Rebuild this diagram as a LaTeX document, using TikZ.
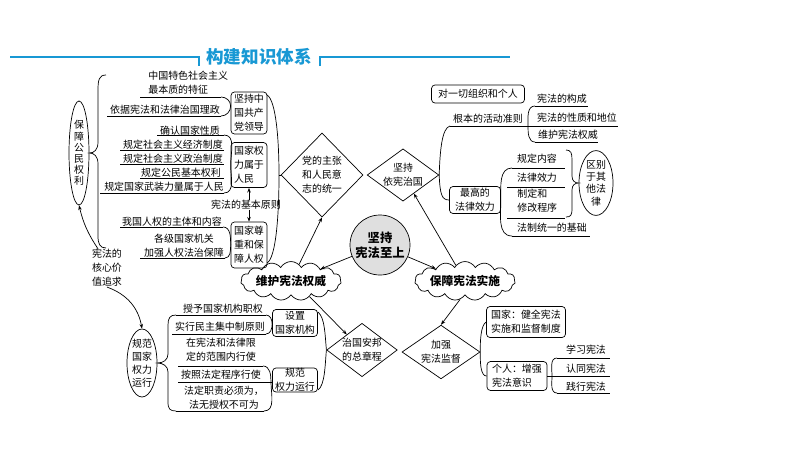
\documentclass[tikz,border=0pt]{standalone}
\usepackage{fontspec}
\setmainfont{Noto Sans CJK SC}
\usepackage{tikz}
\usetikzlibrary{shapes,arrows.meta,positioning,calc}
\definecolor{titleblue}{RGB}{24,152,212}

\begin{document}
\begin{tikzpicture}[x=0.03cm,y=-0.03cm,line width=0.6pt,
    every node/.style={font=\fontsize{8.5}{12}\selectfont},
    txt/.style={inner sep=0pt,align=center},
    box/.style={draw,rounded corners=3pt,align=center,inner sep=0pt},
    dia/.style={draw,diamond,align=center,inner sep=0pt},
    oval/.style={draw,ellipse,align=center,inner sep=0pt},
    puff/.style={draw,cloud,cloud puffs=15,cloud puff arc=120,aspect=3.6,inner sep=0pt,
        font=\fontsize{10}{12}\selectfont\bfseries},
    arr/.style={-{Stealth[length=4pt,width=3pt]}}]
    \useasboundingbox (0,0) rectangle (794,449);

    % Title
    \node[font=\fontsize{15}{18}\selectfont\bfseries,text=titleblue] (title) at (259,57) {构建知识体系};
    \draw[titleblue,line width=1.3pt] (10,57) -- (199,57) -- (199,66);
    \draw[titleblue,line width=1.3pt] (320,66) -- (320,57) -- (510,57);

    % Left upper group
    \node[oval,minimum width=0.6cm,minimum height=3.12cm,font=\fontsize{8.5}{9.5}\selectfont] (prot) at (79,153) {保\\障\\公\\民\\权\\利};
    \draw (106,75) .. controls (99,75) and (98,80) .. (98,90) -- (98,142)
        .. controls (98,150) and (94,153) .. (prot.east)
        .. controls (94,153) and (98,156) .. (98,164) -- (98,236)
        .. controls (98,244) and (100,248) .. (106,248);

    \node[txt,align=left,anchor=west] (a1) at (148,83) {中国特色社会主义\\最本质的特征};
    \node[txt] (a2) at (165,110) {依据宪法和法律治国理政};
    \node[txt] (b1) at (190,131) {确认国家性质};
    \node[txt] (b2) at (173,145) {规定社会主义经济制度};
    \node[txt] (b3) at (173,159) {规定社会主义政治制度};
    \node[txt] (b4) at (181,173) {规定公民基本权利};
    \node[txt] (b5) at (164,187) {规定国家武装力量属于人民};
    \node[txt] (c1) at (172,222) {我国人权的主体和内容};
    \node[txt] (c2) at (184,246) {各级国家机关\\加强人权法治保障};
    \node[txt] (c0) at (246,205) {宪法的基本原则};

    \node[box,minimum width=1.08cm,minimum height=1.26cm] (box1) at (249,113) {坚持中\\国共产\\党领导};
    \node[box,align=left,minimum width=1.08cm,minimum height=1.35cm] (box2) at (249,165) {国家权\\力属于\\人民};
    \node[box,minimum width=1.08cm,minimum height=1.38cm] (box3) at (249,245) {国家尊\\重和保\\障人权};

    \draw (140,97) -- (221,97);
    \draw (107,116) -- (221,116);
    \draw (221,97) to[out=0,in=90] (box1.west |- 0,106) to[out=-90,in=0] (221,116);
    \foreach \y/\x in {135/157,150/120,164/120,178/140,193/100} {
        \draw (\x,\y) -- (224,\y);
    }
    \draw (224,135) to[out=0,in=90] (box2.west) to[out=-90,in=0] (224,193);
    \draw (120,227) -- (223,227);
    \draw (140,258) -- (225,258);
    \draw (223,227) to[out=0,in=90] (box3.west) to[out=-90,in=0] (225,258);

    \draw[arr] (box2.south |- c0.north) -- (box2.south);
    \draw[arr] (box3.north |- c0.south) -- (box3.north);

    % Diamonds and centre
    \node[dia,minimum width=2.46cm,minimum height=2.52cm] (d1) at (322,175) {党的主张\\和人民意\\志的统一};
    \node[dia,aspect=1.37] (d2) at (403,175) {坚持\\依宪治国};
    \node[dia,aspect=1.32] (d3) at (362,350) {治国安邦\\的总章程};
    \node[dia,aspect=1.3,minimum width=2.34cm] (d4) at (441,352) {加强\\宪法监督};

    \coordinate (t1) at (279,175);
    \draw (267,95) .. controls (276,100) and (279,140) .. (t1)
        .. controls (279,215) and (276,258) .. (267,263);
    \draw (t1) -- (d1.west);

    \node[circle,draw,fill=gray!25,minimum size=1.8cm,align=center,inner sep=0pt,
        font=\fontsize{10.5}{13}\selectfont\bfseries] (hub) at (380,245) {坚持\\宪法至上};
    \node[puff,minimum width=3cm,minimum height=0.9cm] (wh) at (291,281) {维护宪法权威};
    \node[puff,minimum width=2.64cm,minimum height=0.78cm] (bz) at (465,281) {保障宪法实施};

    \draw[arr] (hub) -- (wh);
    \draw[arr] (hub) -- (bz);
    \draw[arr] (wh) -- (d1.south);
    \draw[arr] (bz) -- (d2);
    \draw[arr] (wh.-40) -- (d3);
    \draw[arr] (bz.-105) -- (d4.north);

    % Left lower group
    \node[oval,minimum width=0.9cm,minimum height=2.04cm,font=\fontsize{8.5}{11}\selectfont] (reg) at (142,363) {规范\\国家\\权力\\运行};
    \draw (176,315) .. controls (170,315) and (168,318) .. (168,325) -- (168,354)
        .. controls (168,360) and (163,363) .. (reg.east)
        .. controls (163,363) and (168,366) .. (168,372) -- (168,402)
        .. controls (168,409) and (170,411) .. (176,411);

    % Core value
    \node[txt,align=left] (val) at (107,268) {宪法的\\核心价\\值追求};
    \draw[arr] (val.115) to[bend left=10] (prot.south);
    \draw[arr] (val.south) to[bend left=30] (reg.north);

    \node[txt] (e1) at (223,309) {授予国家机构职权};
    \node[txt] (e2) at (220,327) {实行民主集中制原则};
    \node[txt] (e3) at (221,350) {在宪法和法律限\\定的范围内行使};
    \node[txt] (e4) at (221,375) {按照法定程序行使};
    \node[txt] (e5) at (224,398) {法定职责必须为，\\法无授权不可为};

    \node[box,minimum width=1.35cm,minimum height=0.81cm] (s1) at (295,323) {设置\\国家机构};
    \node[box,minimum width=1.35cm,minimum height=0.72cm] (s2) at (295,380) {规范\\权力运行};

    \draw (176,315) -- (266,315);
    \draw (172,334) -- (266,334);
    \draw (178,366) -- (263,366);
    \draw (178,382) -- (s2.west |- 0,382);
    \draw (176,411) -- (264,411);
    \draw (266,315) to[out=0,in=90] (s1.west |- 0,324) to[out=-90,in=0] (266,334);
    \draw (263,366) to[out=0,in=90] (271,382) to[out=-90,in=0] (264,411);
    \draw (318,312) .. controls (325,318) and (325,335) .. (d3.west)
        .. controls (325,365) and (325,385) .. (318,390);

    % Right upper group
    \node[box,minimum width=2.79cm,minimum height=0.54cm] (r0) at (478,94) {对一切组织和个人};
    \node[txt] (r1) at (488,119) {根本的活动准则};
    \node[txt] (r2) at (562,99) {宪法的构成};
    \node[txt] (r3) at (577,118) {宪法的性质和地位};
    \node[txt] (r4) at (568,135) {维护宪法权威};
    \draw (450,126) -- (618,126);
    \draw (535,106) -- (588,106);
    \draw (535,142) -- (598,142);
    \draw (535,106) to[out=180,in=90] (528,126) to[out=-90,in=180] (535,142);

    \node[box,minimum width=1.53cm,minimum height=0.81cm] (m) at (475,200) {最高的\\法律效力};
    \draw (450,126) .. controls (442,128) and (440,150) .. (d2.east)
        .. controls (440,195) and (442,200) .. (m.west);

    \node[txt] (q1) at (537,159) {规定内容};
    \node[txt] (q2) at (537,178) {法律效力};
    \node[txt,align=left,anchor=west] (q3) at (517,201) {制定和\\修改程序};
    \node[txt] (q4) at (552,228) {法制统一的基础};
    \draw (512,168) -- (565,168);
    \draw (507,187) -- (565,187);
    \draw (507,218) -- (565,218);
    \draw (512,236) -- (590,236);
    \draw (512,168) to[out=180,in=90] (m.east) to[out=-90,in=180] (512,236);

    \node[oval,minimum width=1.02cm,minimum height=1.92cm,font=\fontsize{8.5}{10.5}\selectfont] (diff) at (596,183) {区别\\于其\\他法\\律};
    \draw (566,150) .. controls (571,150) and (572,153) .. (572,160) -- (572,176)
        .. controls (572,181) and (575,183) .. (diff.west)
        .. controls (575,183) and (572,185) .. (572,190) -- (572,208)
        .. controls (572,215) and (571,217) .. (566,217);

    % Right lower group
    \node[box,minimum width=2.37cm,minimum height=0.93cm] (na) at (526,322) {国家：健全宪法\\实施和监督制度};
    \node[box,align=left,minimum width=1.8cm,minimum height=0.87cm] (pe) at (517,376) {个人：增强\\宪法意识};
    \draw (na.west) .. controls (481,325) and (480,340) .. (d4.east)
        .. controls (480,365) and (481,376) .. (pe.west);

    \node[txt] (l1) at (586,350) {学习宪法};
    \node[txt] (l2) at (586,369) {认同宪法};
    \node[txt] (l3) at (586,387) {践行宪法};
    \draw (557,358) -- (610,358);
    \draw (pe.east) -- (610,376);
    \draw (557,393) -- (610,393);
    \draw (557,358) to[out=180,in=90] (552,376) to[out=-90,in=180] (557,393);
\end{tikzpicture}
\end{document}
